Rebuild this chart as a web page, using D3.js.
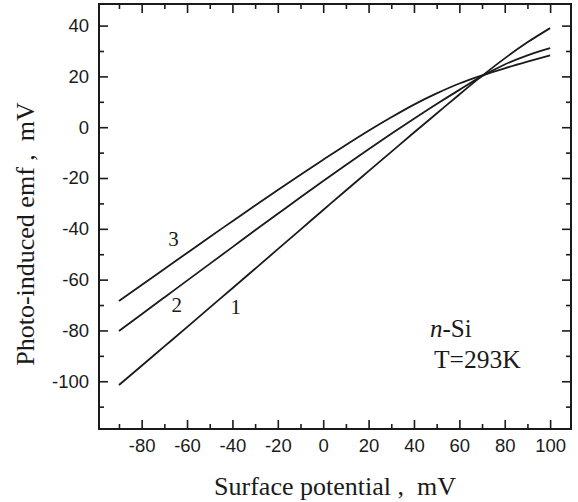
<!DOCTYPE html>
<html><head><meta charset="utf-8">
<script src="https://cdn.jsdelivr.net/npm/d3@7"></script>
<style>
html,body{margin:0;padding:0;background:#fff;}
svg{display:block;}
text{white-space:pre;}
</style></head>
<body>
<svg id="chart" width="578" height="502"></svg>
<script>
// ---- data ----
const surfacePotential = [-90,-80,-70,-60,-50,-40,-30,-20,-10,0,10,20,30,40,50,60,70,80,90,100];
const curve1 = [-101.5,-93.9,-86.3,-78.7,-71.0,-63.4,-55.7,-48.0,-40.3,-32.6,-24.9,-17.3,-9.7,-2.1,5.4,12.9,20.2,27.1,33.4,39.0];
const curve2 = [-80.2,-73.6,-67.0,-60.4,-53.8,-47.2,-40.6,-34.1,-27.6,-21.2,-14.9,-8.7,-2.6,3.3,9.1,14.7,20.1,24.7,28.3,31.1];
const curve3 = [-68.4,-62.1,-55.8,-49.5,-43.2,-37.0,-30.8,-24.7,-18.7,-12.8,-7.0,-1.4,3.9,8.9,13.3,17.2,20.4,23.2,25.8,28.3];
const curveLabels = [
  {name:"1", x:-38.5, y:-71.5},
  {name:"2", x:-64.5, y:-70.7},
  {name:"3", x:-66, y:-45}
];
const xMajorTicks = [-80,-60,-40,-20,0,20,40,60,80,100];
const xMinorTicks = [-90,-70,-50,-30,-10,10,30,50,70,90];
const yMajorTicks = [-100,-80,-60,-40,-20,0,20,40];
const yMinorTicks = [-110,-90,-70,-50,-30,-10,10,30];
const xTitle = "Surface potential ,  mV";
const yTitle = "Photo-induced emf ,  mV";

// ---- layout ----
const L = 99, R = 571, T = 4, B = 429;
const svg = d3.select("#chart");
const x = d3.scaleLinear().domain([-98.8, 109.2]).range([L, R]);
const y = d3.scaleLinear().domain([-118.8, 48.5]).range([B, T]);

const ink = "#1a1a1a";
const fmt = d => String(d);

function styleAxis(g){
  g.select(".domain").remove();
  g.selectAll("line").attr("stroke", ink).attr("stroke-width", 1.6);
  g.selectAll("text").attr("fill", ink)
    .style("font-family", "'Liberation Sans', Arial, sans-serif")
    .style("font-size", "18.5px");
}

// bottom
svg.append("g").attr("transform", `translate(0,${B})`)
  .call(d3.axisBottom(x).tickValues(xMajorTicks).tickFormat(fmt).tickSizeInner(-9).tickSizeOuter(0).tickPadding(10))
  .call(styleAxis);
svg.append("g").attr("transform", `translate(0,${B})`)
  .call(d3.axisBottom(x).tickValues(xMinorTicks).tickFormat("").tickSizeInner(-5).tickSizeOuter(0))
  .call(styleAxis);
// top
svg.append("g").attr("transform", `translate(0,${T})`)
  .call(d3.axisTop(x).tickValues(xMajorTicks).tickFormat("").tickSizeInner(-9).tickSizeOuter(0))
  .call(styleAxis);
svg.append("g").attr("transform", `translate(0,${T})`)
  .call(d3.axisTop(x).tickValues(xMinorTicks).tickFormat("").tickSizeInner(-5).tickSizeOuter(0))
  .call(styleAxis);
// left
svg.append("g").attr("transform", `translate(${L},0)`)
  .call(d3.axisLeft(y).tickValues(yMajorTicks).tickFormat(fmt).tickSizeInner(-9).tickSizeOuter(0).tickPadding(10))
  .call(styleAxis);
svg.append("g").attr("transform", `translate(${L},0)`)
  .call(d3.axisLeft(y).tickValues(yMinorTicks).tickFormat("").tickSizeInner(-5).tickSizeOuter(0))
  .call(styleAxis);
// right
svg.append("g").attr("transform", `translate(${R},0)`)
  .call(d3.axisRight(y).tickValues(yMajorTicks).tickFormat("").tickSizeInner(-9).tickSizeOuter(0))
  .call(styleAxis);
svg.append("g").attr("transform", `translate(${R},0)`)
  .call(d3.axisRight(y).tickValues(yMinorTicks).tickFormat("").tickSizeInner(-5).tickSizeOuter(0))
  .call(styleAxis);

// frame
svg.append("rect").attr("x", L).attr("y", T).attr("width", R - L).attr("height", B - T)
  .attr("fill", "none").attr("stroke", ink).attr("stroke-width", 2);

// curves
const line = d3.line().x(d => x(d[0])).y(d => y(d[1])).curve(d3.curveMonotoneX);
[curve1, curve2, curve3].forEach(vals => {
  svg.append("path")
    .datum(surfacePotential.map((v, i) => [v, vals[i]]))
    .attr("d", line)
    .attr("fill", "none").attr("stroke", ink).attr("stroke-width", 1.8);
});

const serif = "'Liberation Serif', 'Times New Roman', serif";
// curve labels
svg.selectAll("text.clab").data(curveLabels).enter().append("text")
  .attr("class", "clab")
  .attr("x", d => x(d.x)).attr("y", d => y(d.y))
  .attr("text-anchor", "middle").attr("dominant-baseline", "middle")
  .attr("fill", ink)
  .style("font-family", serif).style("font-size", "21px")
  .text(d => d.name);

// annotation
const ann = svg.append("text").attr("x", 430).attr("y", 337).attr("fill", ink)
  .style("font-family", serif).style("font-size", "25px");
ann.append("tspan").style("font-style", "italic").text("n");
ann.append("tspan").text("-Si");
svg.append("text").attr("x", 434).attr("y", 368).attr("fill", ink)
  .style("font-family", serif).style("font-size", "25.5px").text("T=293K");

// axis titles
svg.append("text").attr("x", 335).attr("y", 495)
  .attr("text-anchor", "middle").attr("fill", ink)
  .style("font-family", serif).style("font-size", "26px").text(xTitle);
svg.append("text")
  .attr("transform", `translate(34,${234}) rotate(-90)`)
  .attr("text-anchor", "middle").attr("fill", ink)
  .style("font-family", serif).style("font-size", "26px").text(yTitle);
</script>
</body></html>
